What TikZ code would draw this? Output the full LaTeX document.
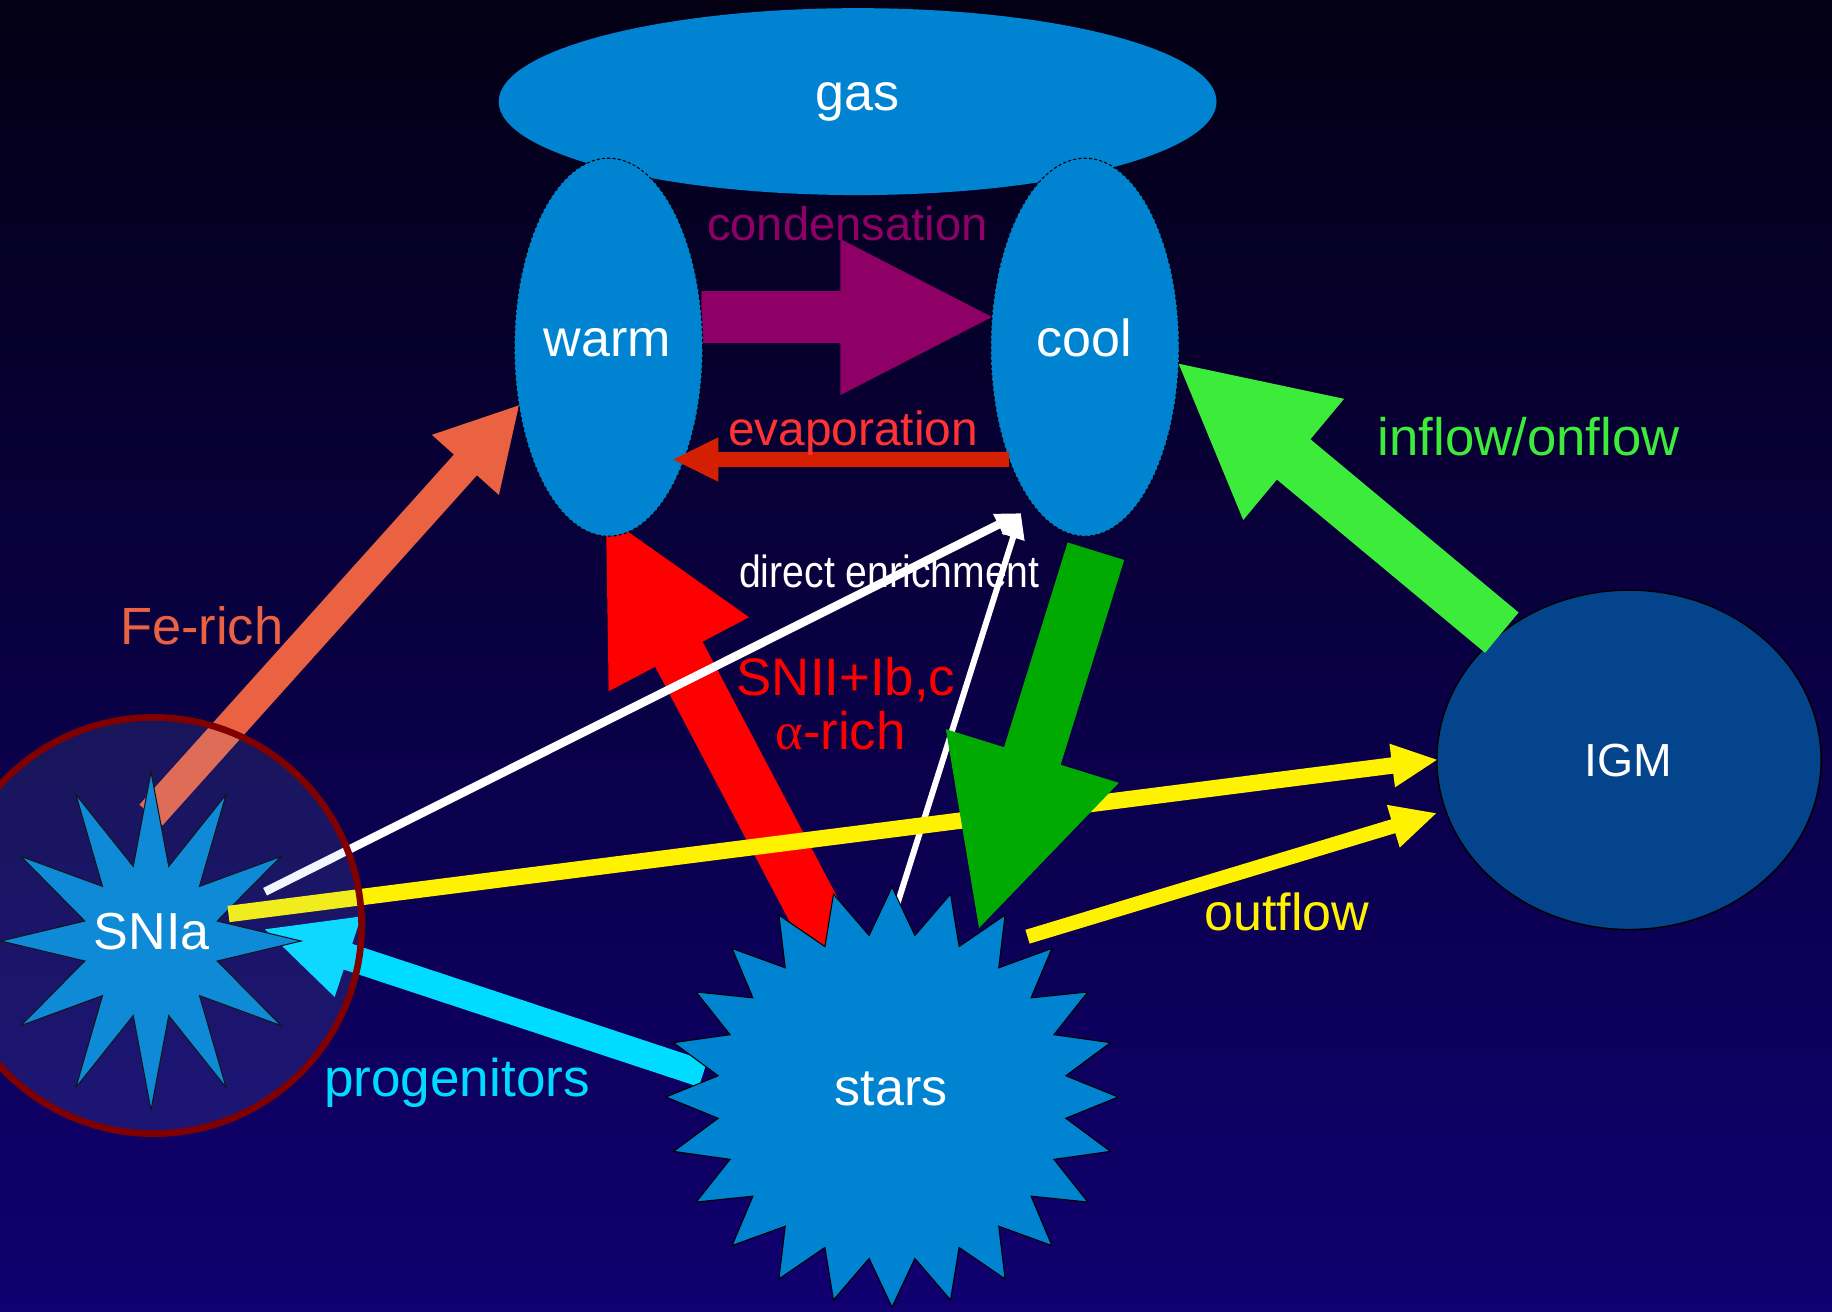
\documentclass[tikz,border=0pt]{standalone}
\usepackage{fontspec}
\setmainfont{Liberation Sans}
\newfontfamily\narrowsans[FakeStretch=0.87]{Liberation Sans}
\newfontfamily\greekserif{Liberation Serif}
\usetikzlibrary{shapes.geometric,calc}

\definecolor{bgtop}{RGB}{3,0,20}
\definecolor{bgbot}{RGB}{16,0,112}
\definecolor{gasblue}{RGB}{0,132,209}
\definecolor{igmblue}{RGB}{4,68,140}
\definecolor{condpurple}{RGB}{142,0,102}
\definecolor{evapred}{RGB}{212,32,0}
\definecolor{evaptext}{RGB}{255,51,51}
\definecolor{fecoral}{RGB}{234,98,66}
\definecolor{inflowgreen}{RGB}{61,235,59}
\definecolor{darkgreen}{RGB}{0,170,0}
\definecolor{progcyan}{RGB}{0,220,255}
\definecolor{circred}{RGB}{128,0,0}
\definecolor{circtint}{RGB}{140,190,255}

\pgfdeclarelayer{bglayer}
\pgfdeclarelayer{under}
\pgfdeclarelayer{over}
\pgfdeclarelayer{toplayer}
\pgfsetlayers{bglayer,under,main,over,toplayer}

\newcommand{\setsz}[1]{\fontsize{#1}{#1}\selectfont}
% style, from, to, shaft half width, head half width, head length
\newcommand{\blkarrow}[6]{%
  \path ($(#3)!#6!(#2)$) coordinate (bk-base);
  \fill[#1] ($(#2)!#4!90:(#3)$) -- ($(bk-base)!#4!90:(#3)$) -- ($(bk-base)!#5!90:(#3)$)
    -- (#3) -- ($(bk-base)!#5!-90:(#3)$) -- ($(bk-base)!#4!-90:(#3)$) -- ($(#2)!#4!-90:(#3)$) -- cycle;}

\tikzset{
  blob/.style={ellipse, fill=gasblue, inner sep=0pt, outer sep=0pt},
  phase/.style={blob, draw=black, line width=0.3pt, dash pattern=on 0.9pt off 0.6pt},
  burst/.style={star, fill=gasblue, draw=black, line width=0.3pt, inner sep=0pt, outer sep=0pt, transform shape},
  lbl/.style={anchor=base, inner sep=0pt, outer sep=0pt},
}

\begin{document}
\begin{tikzpicture}[x=0.01cm,y=-0.01cm]
\useasboundingbox (0,0) rectangle (1832,1311);
\begin{pgfonlayer}{bglayer}
\shade[top color=bgtop, bottom color=bgbot] (0,0) rectangle (1832,1311);
\end{pgfonlayer}

% nodes
\node[blob, minimum width=7.174cm, minimum height=1.868cm] (gas) at (857.6,101.6) {};
\node[phase, minimum width=1.882cm, minimum height=3.778cm] (warm) at (608.5,347.2) {};
\node[phase, minimum width=1.882cm, minimum height=3.778cm] (cool) at (1084.9,347.2) {};
\node[ellipse, fill=igmblue, draw=black, line width=0.4pt, inner sep=0pt, outer sep=0pt,
      minimum width=3.84cm, minimum height=3.392cm] (igm) at (1629,759.8) {};
\node[burst, star points=24, star point ratio=1.29, minimum size=4.52cm, yscale=0.929] (stars) at (892,1097) {};
\node[burst, star points=12, star point ratio=2.19, minimum size=3.38cm, xscale=0.888] (snia) at (151,941) {};

% free ends
\coordinate (feTail) at ($(snia.center)+(0,-126)$);
\coordinate (snTail) at ($(stars.center)+(-56,-145)$);
\coordinate (snTip) at ($(warm.south)+(-2.5,-20)$);
\coordinate (grTail) at ($(cool.south)+(11,15)$);
\coordinate (grTip) at ($(stars.center)+(87,-169)$);
\coordinate (cyTail) at ($(stars.center)+(-189,-23)$);
\coordinate (cyTip) at ($(snia.center)+(114,-11.7)$);
\coordinate (ylTail) at ($(snia.center)+(77.5,-27)$);
\coordinate (outTail) at ($(stars.center)+(135.5,-160.3)$);
\coordinate (outTip) at ($(igm.center)+(-193,53.5)$);
\coordinate (wTip) at ($(cool.south)+(-64.2,-22.8)$);
\coordinate (wTailA) at ($(snia.center)+(114,-49.3)$);
\coordinate (wTailB) at ($(stars.center)+(-25,-97)$);
\coordinate (evTip) at ($(warm.-56)+(-11,0)$);

\begin{pgfonlayer}{under}
\blkarrow{condpurple}{warm.18}{cool.162}{0.258cm}{0.78cm}{1.515cm}
\blkarrow{red}{snTail}{snTip}{0.268cm}{0.793cm}{1.56cm}
\blkarrow{fecoral}{feTail}{warm.213}{0.155cm}{0.45cm}{0.80cm}
\blkarrow{progcyan}{cyTail}{cyTip}{0.135cm}{0.424cm}{0.873cm}
\blkarrow{white}{wTailA}{wTip}{0.042cm}{0.12cm}{0.25cm}
\blkarrow{white}{wTailB}{wTip}{0.03cm}{0.12cm}{0.25cm}
\end{pgfonlayer}

\begin{pgfonlayer}{over}
\blkarrow{evapred}{cool.236}{evTip}{0.075cm}{0.222cm}{0.45cm}
\blkarrow{inflowgreen}{igm.135}{cool.-10}{0.262cm}{0.788cm}{1.495cm}
\blkarrow{yellow}{ylTail}{igm.west}{0.082cm}{0.22cm}{0.45cm}
\blkarrow{yellow}{outTail}{outTip}{0.072cm}{0.223cm}{0.446cm}
\blkarrow{darkgreen}{grTail}{grTip}{0.296cm}{0.905cm}{1.80cm}
\node[circle, minimum size=4.16cm, inner sep=0pt, outer sep=0pt, draw=circred, line width=1.9pt,
      fill=circtint, fill opacity=0.115] (ring) at (153.5,925.5) {};
\end{pgfonlayer}

\begin{pgfonlayer}{toplayer}
\node[lbl, text=white, font=\setsz{14.8pt}] (gasl) at (857.7,110) {gas};
\node[lbl, text=white, font=\setsz{14.8pt}] (warml) at (607.4,356.7) {warm};
\node[lbl, text=white, font=\setsz{14.8pt}] (cooll) at (1084.5,356.7) {cool};
\node[lbl, text=white, font=\setsz{14.8pt}] (snial) at (151.7,949.3) {SNIa};
\node[lbl, text=white, font=\setsz{14.8pt}] (starsl) at (891,1105) {stars};
\node[lbl, text=white, font=\setsz{13.2pt}] (igml) at (1628,776) {IGM};
\node[lbl, text=condpurple, font=\setsz{13.4pt}] (condl) at (847.3,240) {condensation};
\node[lbl, text=evaptext, font=\setsz{13.6pt}] (evapl) at (853,445) {evaporation};
\node[lbl, text=white, font=\narrowsans\setsz{12.8pt}] (directl) at (889.4,587.3) {direct enrichment};
\node[lbl, text=red, font=\setsz{15pt}] (sniil) at (846,695) {SNII+Ib,c};
\node[lbl, text=red, font=\setsz{15pt}] (alphal) at (840.6,749.3) {{\greekserif α}-rich};
\node[lbl, text=fecoral, font=\setsz{14.9pt}] (fel) at (201.7,644.3) {Fe-rich};
\node[lbl, text=inflowgreen, font=\setsz{15pt}] (inflowl) at (1528.7,455.4) {inflow/onflow};
\node[lbl, text=yellow, font=\setsz{14.8pt}] (outflowl) at (1287,930.5) {outflow};
\node[lbl, text=progcyan, font=\setsz{15.1pt}] (progl) at (457,1096.7) {progenitors};
\end{pgfonlayer}
\end{tikzpicture}
\end{document}
